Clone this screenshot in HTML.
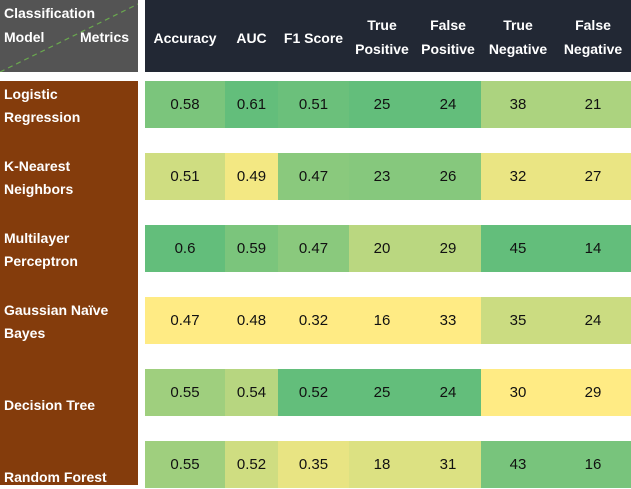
<!DOCTYPE html>
<html><head><meta charset="utf-8"><style>
body{margin:0;width:631px;height:485px;background:#fff;position:relative;overflow:hidden;font-family:"Liberation Sans",Arial,sans-serif}
.a{position:absolute;box-sizing:border-box}
.hd{color:#fff;font-weight:bold;font-size:14px;text-align:center;line-height:24px}
.lbl{color:#fff;font-weight:bold;font-size:14px;line-height:23px;padding-left:4px}
.cell{font-size:15px;color:#111;text-align:center;line-height:47px}
</style></head><body>
<div class="a" style="left:0;top:0;width:138px;height:72px;background:#545454">
<svg width="138" height="72" style="position:absolute;left:0;top:0"><line x1="0" y1="72" x2="138" y2="4" stroke="#6aa84f" stroke-width="1.2" stroke-dasharray="5,4"/></svg>
<div class="a lbl" style="left:0;top:2px">Classification</div>
<div class="a lbl" style="left:0;top:26px">Model</div>
<div class="a lbl" style="left:76px;top:26px">Metrics</div>
</div>
<div class="a" style="left:145px;top:0;width:486px;height:72px;background:#222834"></div>
<div class="a" style="left:0;top:81px;width:138px;height:404px;background:#843c0c"></div>
<div id="grid"></div>
<script>
const models=["Logistic Regression","K-Nearest Neighbors","Multilayer Perceptron","Gaussian Naïve Bayes","Decision Tree","Random Forest"];
const metrics=["Accuracy","AUC","F1 Score","True Positive","False Positive","True Negative","False Negative"];
const accuracy=[0.58,0.51,0.6,0.47,0.55,0.55];
const auc=[0.61,0.49,0.59,0.48,0.54,0.52];
const f1=[0.51,0.47,0.47,0.32,0.52,0.35];
const truePos=[25,23,20,16,25,18];
const falsePos=[24,26,29,33,24,31];
const trueNeg=[38,32,45,35,30,43];
const falseNeg=[21,27,14,24,29,16];
const series=[accuracy,auc,f1,truePos,falsePos,trueNeg,falseNeg];
const lowerBetter=[false,false,false,false,true,false,true];
const colX=[145,225,278,349,415,481,555,631];
const rowTop=i=>81+i*72;
const g=document.getElementById('grid');
const lbl2=[["Logistic","Regression"],["K-Nearest","Neighbors"],["Multilayer","Perceptron"],["Gaussian Naïve","Bayes"],["","Decision Tree"],["","Random Forest"]];
metrics.forEach((m,j)=>{
 const d=document.createElement('div');
 d.className='a hd';
 
 
 const w=m.split(' ');
 const two=(m==="True Positive"||m==="False Positive"||m==="True Negative"||m==="False Negative");
 d.style.left=colX[j]+'px';d.style.width=(colX[j+1]-colX[j])+'px';
 d.style.top=(two?13:26)+'px';
 d.innerHTML=two?w[0]+'<br>'+w[1]:m;
 g.appendChild(d);
});
function col(t){const y=[255,235,132],gr=[99,190,123];return 'rgb('+y.map((v,k)=>Math.round(v+(gr[k]-v)*t)).join(',')+')';}
models.forEach((m,i)=>{
 const l=document.createElement('div');
 l.className='a lbl';
 
 
 l.style.left='0';l.style.top=(rowTop(i)+2)+'px';
 l.innerHTML=lbl2[i][0]+'<br>'+lbl2[i][1];
 g.appendChild(l);
 series.forEach((s,j)=>{
  const mn=Math.min(...s),mx=Math.max(...s);
  let t=(s[i]-mn)/(mx-mn||1);if(lowerBetter[j])t=1-t;
  const c=document.createElement('div');
  c.className='a cell';
  
  
  c.style.left=colX[j]+'px';c.style.width=(colX[j+1]-colX[j])+'px';
  c.style.top=rowTop(i)+'px';c.style.height='47px';
  c.style.background=col(t);
  c.textContent=s[i];
  g.appendChild(c);
 });
});
</script>
</body></html>
